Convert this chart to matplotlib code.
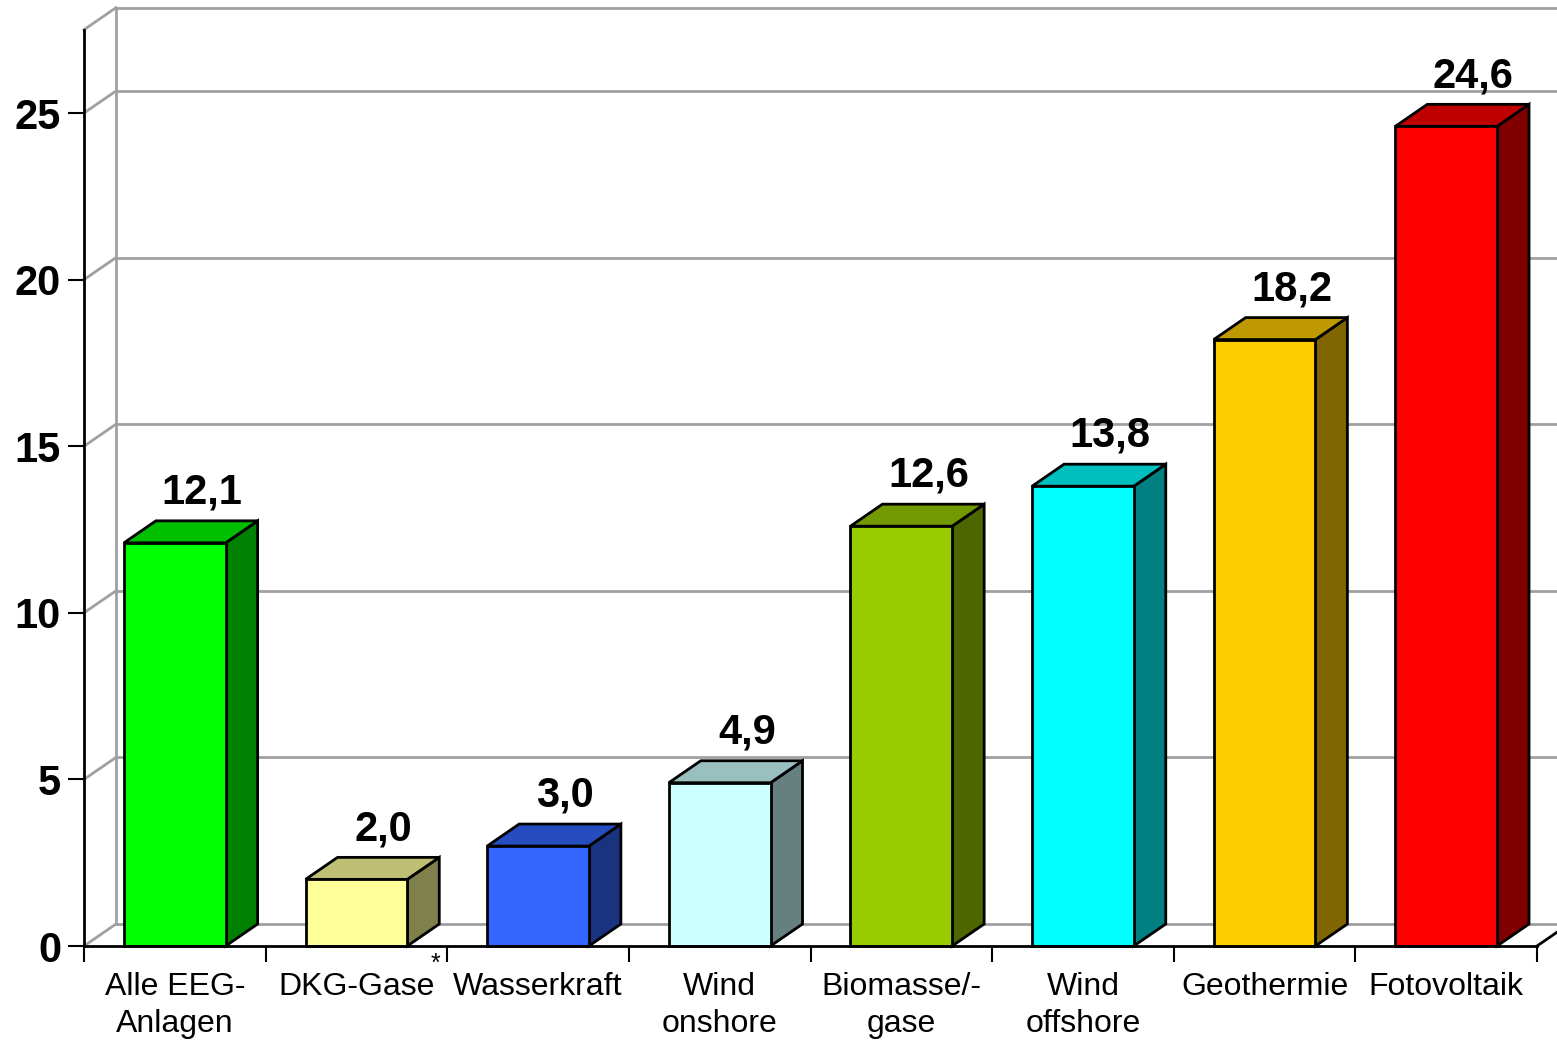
import matplotlib
matplotlib.use("Agg")
from matplotlib import pyplot as plt
from matplotlib.patches import Polygon
import numpy as np

plt.rcParams['font.family'] = ['Liberation Sans', 'DejaVu Sans']

categories = ["Alle EEG-\nAnlagen", "DKG-Gase", "Wasserkraft", "Wind\nonshore",
              "Biomasse/-\ngase", "Wind\noffshore", "Geothermie", "Fotovoltaik"]
values = [12.1, 2.0, 3.0, 4.9, 12.6, 13.8, 18.2, 24.6]
labels = ["12,1", "2,0", "3,0", "4,9", "12,6", "13,8", "18,2", "24,6"]
front_colors = ["#00FF00", "#FFFF99", "#3366FF", "#CCFFFF",
                "#99CC00", "#00FFFF", "#FFCC00", "#FF0000"]
yticks = [0, 5, 10, 15, 20, 25]

ymax = 27.5
dx = 0.176   # depth offset in category units
dy = 0.66    # depth offset in value units
bar_w = 0.56


def shade(hexcol, f):
    r, g, b = matplotlib.colors.to_rgb(hexcol)
    return (r * f, g * f, b * f)


fig = plt.figure(figsize=(15.57, 10.41), dpi=100)
ax = fig.add_axes([84 / 1557, 95 / 1041, 1453 / 1557, 916.3 / 1041])
ax.set_xlim(0, len(categories))
ax.set_ylim(0, ymax)

grid_col = "#A0A0A0"
# back wall and side wall lines
for v in yticks + [ymax]:
    ax.plot([dx, 8.3], [v + dy, v + dy], color=grid_col, lw=2, clip_on=False, zorder=1)
    ax.plot([0, dx], [v, v + dy], color=grid_col, lw=2, clip_on=False, zorder=1)
ax.plot([dx, dx], [dy, ymax + dy], color=grid_col, lw=2, clip_on=False, zorder=1)
# floor right edge
ax.plot([8, 8 + dx], [0, dy], color="black", lw=2, clip_on=False, zorder=1)

# bars
for i, (v, c) in enumerate(zip(values, front_colors)):
    x0 = i + 0.5 - bar_w / 2
    x1 = x0 + bar_w
    front = Polygon([(x0, 0), (x1, 0), (x1, v), (x0, v)], closed=True,
                    facecolor=c, edgecolor="black", lw=2, zorder=3, clip_on=False)
    top = Polygon([(x0, v), (x1, v), (x1 + dx, v + dy), (x0 + dx, v + dy)], closed=True,
                  facecolor=shade(c, 0.75), edgecolor="black", lw=2, zorder=3, clip_on=False)
    side = Polygon([(x1, 0), (x1 + dx, dy), (x1 + dx, v + dy), (x1, v)], closed=True,
                   facecolor=shade(c, 0.5), edgecolor="black", lw=2, zorder=3, clip_on=False)
    ax.add_patch(side)
    ax.add_patch(top)
    ax.add_patch(front)
    ax.text(i + 0.5 + 0.15, v + dy + 0.25, labels[i], ha="center", va="bottom",
            fontsize=30, fontweight="bold", zorder=4)

# axes styling
for s in ["top", "right"]:
    ax.spines[s].set_visible(False)
for s in ["left", "bottom"]:
    ax.spines[s].set_linewidth(2)
    ax.spines[s].set_zorder(5)

ax.set_yticks(yticks)
ax.set_yticklabels([str(t) for t in yticks], fontsize=30, fontweight="bold")
ax.tick_params(axis="y", length=11.5, width=1.5, pad=5)

ax.set_xticks(np.arange(0, len(categories) + 1))
ax.set_xticklabels([])
ax.tick_params(axis="x", which="major", length=11.5, width=1.5)
ax.set_xticks(np.arange(len(categories)) + 0.5, minor=True)
ax.set_xticklabels(categories, minor=True, fontsize=23, linespacing=1.3)
ax.tick_params(axis="x", which="minor", length=0, pad=19)

ax.text(1.933, -0.55, "*", ha="center", va="center", fontsize=18)

fig.savefig("out.png", dpi=100)
